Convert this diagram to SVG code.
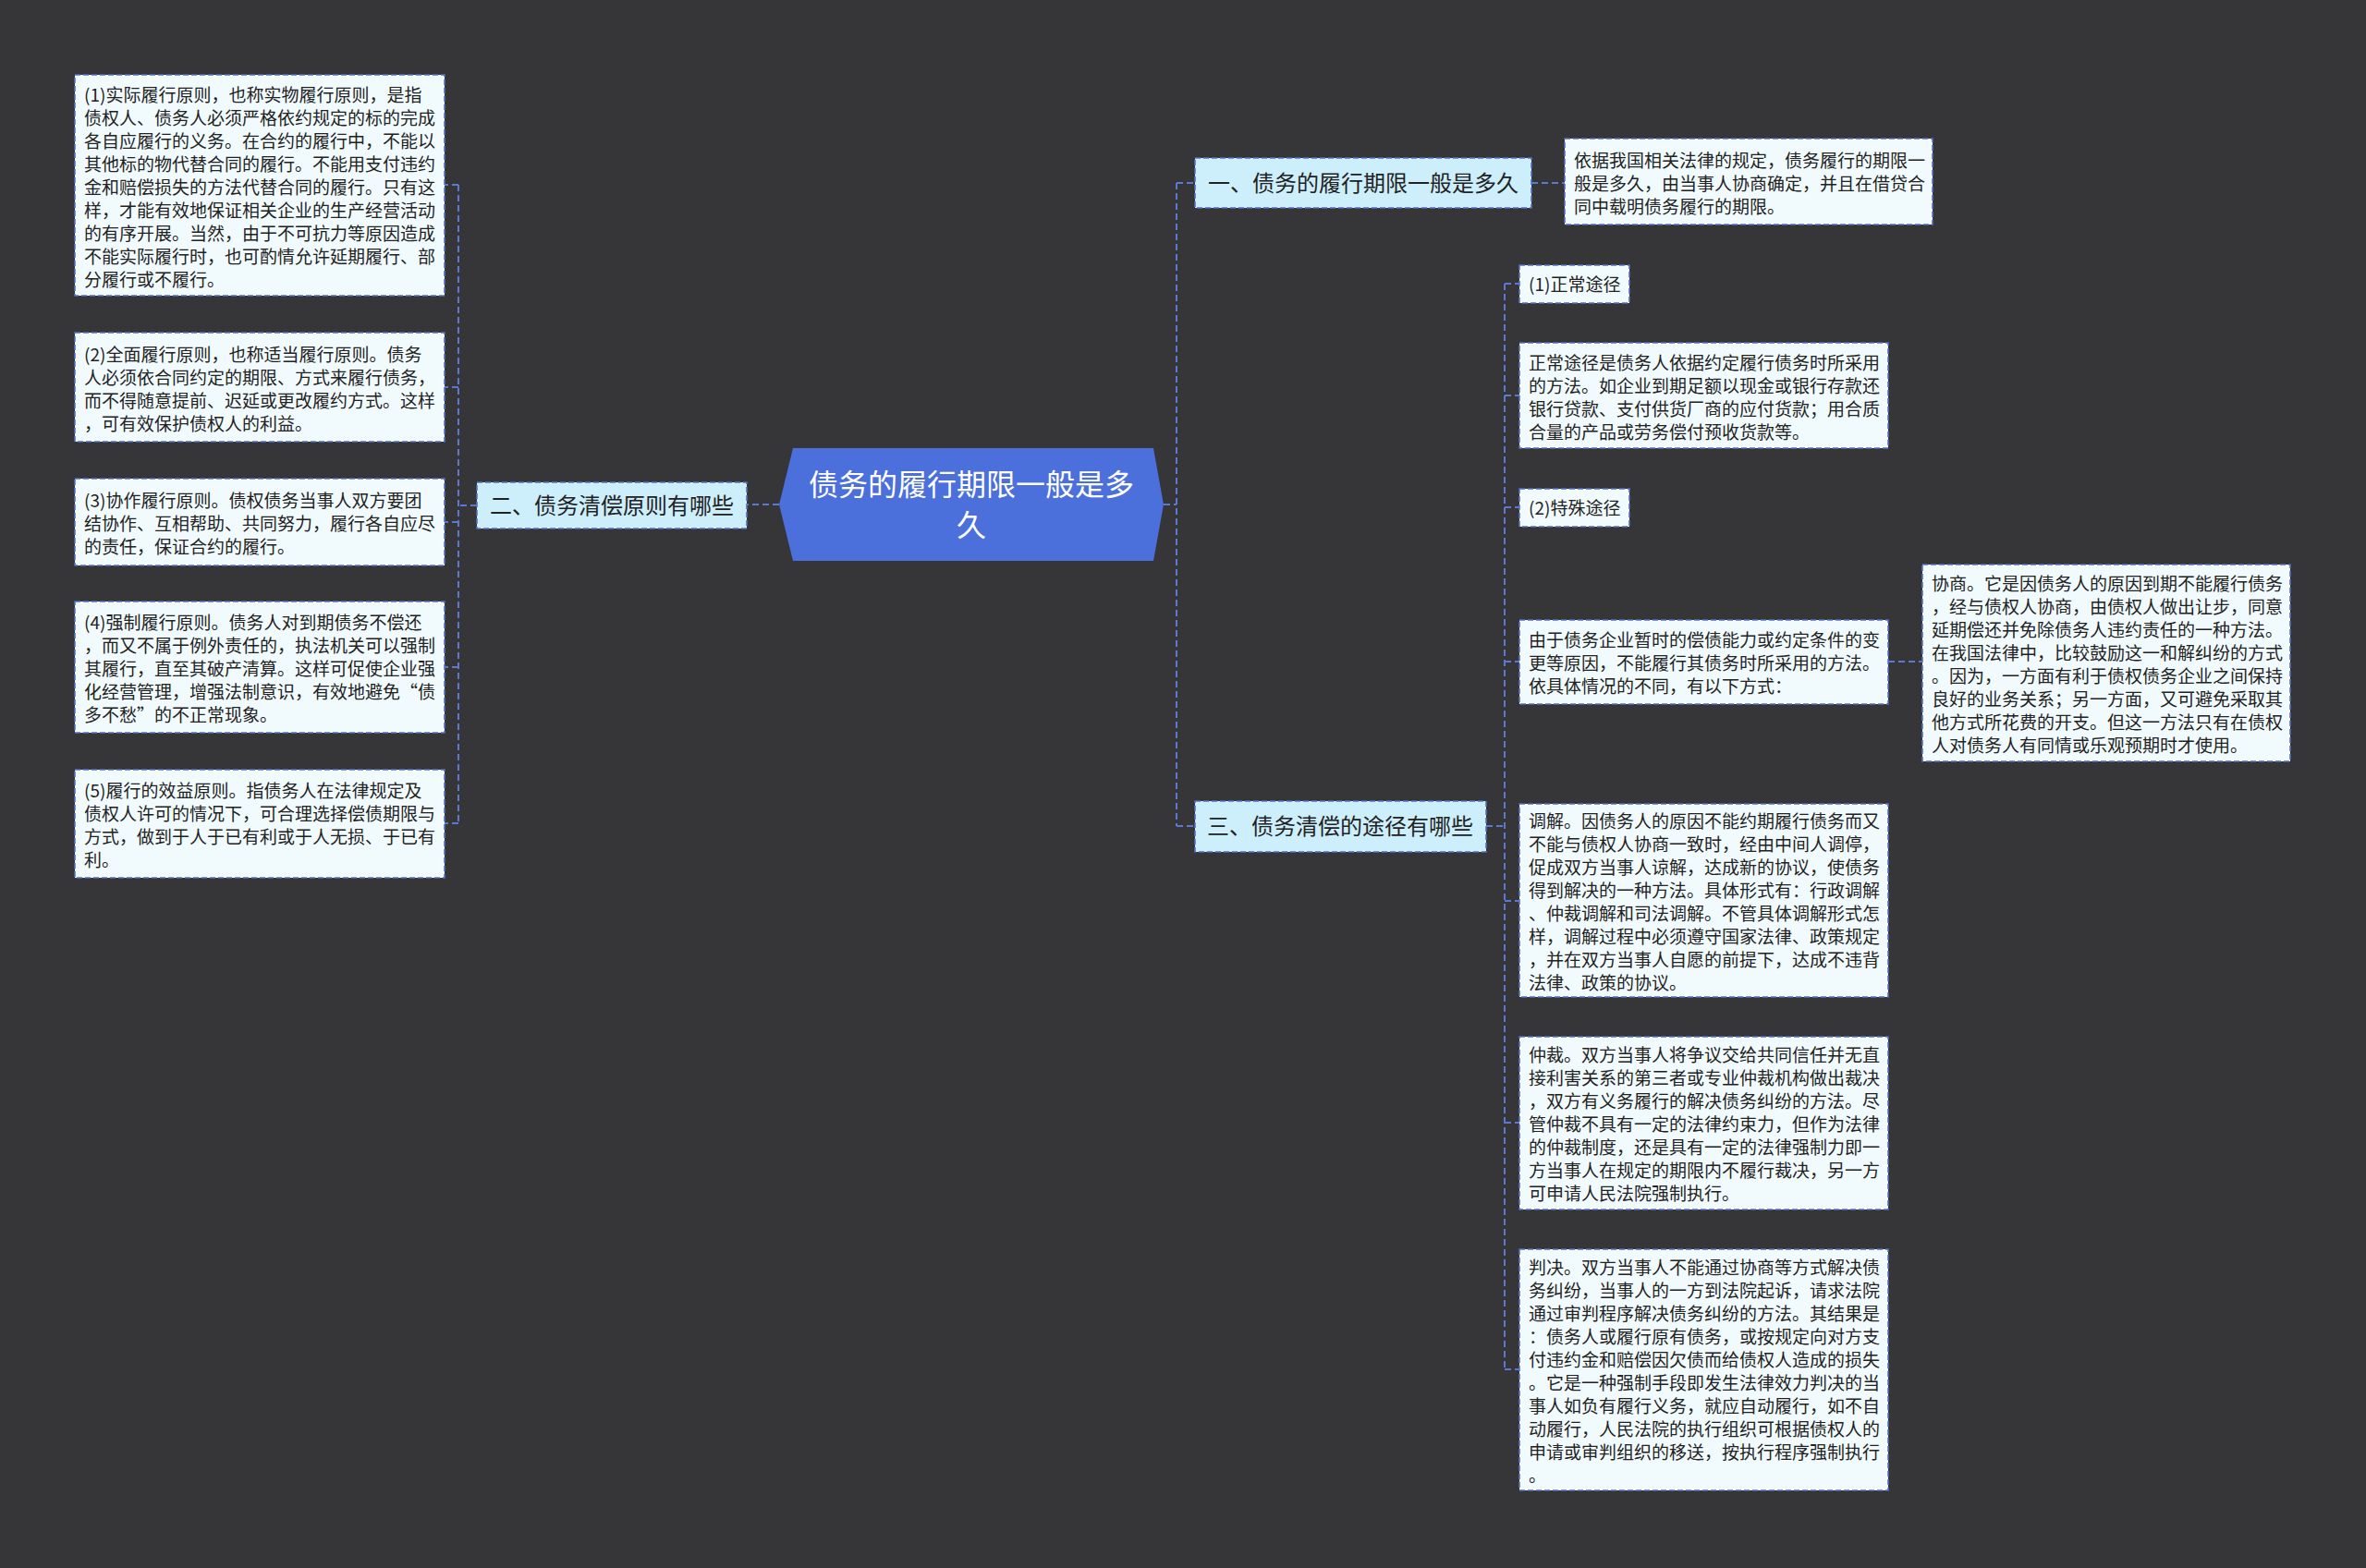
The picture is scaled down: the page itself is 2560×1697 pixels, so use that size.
<svg xmlns="http://www.w3.org/2000/svg" width="2560" height="1697" viewBox="0 0 2560 1697">
<style>
.bg{fill:#363538}
.leaf{fill:#f1fbfe;stroke:#5470c6;stroke-width:1.6;stroke-dasharray:6 3}
.br{fill:#cdeefb;stroke:#5470c6;stroke-width:1.6;stroke-dasharray:6 3}
.t{font-family:"Noto Sans CJK SC","Noto Sans",sans-serif;font-size:19px;fill:#222222;dominant-baseline:central}
.bt{font-family:"Noto Sans CJK SC","Noto Sans",sans-serif;font-size:24px;fill:#222222;dominant-baseline:central;text-anchor:middle}
.ct{font-family:"Noto Sans CJK SC","Noto Sans",sans-serif;font-size:32px;fill:#ffffff;dominant-baseline:central;text-anchor:middle}
.c{fill:none;stroke:#5a78d4;stroke-width:2;stroke-dasharray:7 4}
</style>
<rect class="bg" x="0" y="0" width="2560" height="1697"/>
<g id="connectors">
<path class="c" d="M843,546 H808"/>
<path class="c" d="M516,547 H496 M496,200 V891 M496,200 H481 M496,419 H481 M496,565 H481 M496,722 H481 M496,891 H481"/>
<path class="c" d="M1259,546 H1273 M1273,198 V894 M1273,198 H1293 M1273,894 H1293"/>
<path class="c" d="M1657,198 H1693"/>
<path class="c" d="M1608,894 H1628 M1628,307 V1482 M1628,307 H1644 M1628,428 H1644 M1628,549 H1644 M1628,716 H1644 M1628,975 H1644 M1628,1215 H1644 M1628,1482 H1644"/>
<path class="c" d="M2043,716 H2080"/>
</g>
<g id="center">
<polygon points="858,485 1248,485 1259,546 1248,607 858,607 843,546" fill="#4b6fdb"/>
<text class="ct" x="1051" y="522">债务的履行期限一般是多</text>
<text class="ct" x="1051" y="566">久</text>
</g>
<g id="branch2">
<rect class="br" x="516" y="522" width="292" height="50"/>
<text class="bt" x="662" y="545">二、债务清偿原则有哪些</text>
</g>
<g id="left1">
<rect class="leaf" x="81" y="81" width="400" height="239"/>
<text class="t" x="91"><tspan x="91" y="100.5">(1)实际履行原则，也称实物履行原则，是指</tspan><tspan x="91" y="125.5">债权人、债务人必须严格依约规定的标的完成</tspan><tspan x="91" y="150.5">各自应履行的义务。在合约的履行中，不能以</tspan><tspan x="91" y="175.5">其他标的物代替合同的履行。不能用支付违约</tspan><tspan x="91" y="200.5">金和赔偿损失的方法代替合同的履行。只有这</tspan><tspan x="91" y="225.5">样，才能有效地保证相关企业的生产经营活动</tspan><tspan x="91" y="250.5">的有序开展。当然，由于不可抗力等原因造成</tspan><tspan x="91" y="275.5">不能实际履行时，也可酌情允许延期履行、部</tspan><tspan x="91" y="300.5">分履行或不履行。</tspan></text>
</g>
<g id="left2">
<rect class="leaf" x="81" y="360" width="400" height="118"/>
<text class="t"><tspan x="91" y="381.5">(2)全面履行原则，也称适当履行原则。债务</tspan><tspan x="91" y="406.5">人必须依合同约定的期限、方式来履行债务，</tspan><tspan x="91" y="431.5">而不得随意提前、迟延或更改履约方式。这样</tspan><tspan x="91" y="456.5">，可有效保护债权人的利益。</tspan></text>
</g>
<g id="left3">
<rect class="leaf" x="81" y="518" width="400" height="94"/>
<text class="t"><tspan x="91" y="540">(3)协作履行原则。债权债务当事人双方要团</tspan><tspan x="91" y="565">结协作、互相帮助、共同努力，履行各自应尽</tspan><tspan x="91" y="590">的责任，保证合约的履行。</tspan></text>
</g>
<g id="left4">
<rect class="leaf" x="81" y="651" width="400" height="142"/>
<text class="t"><tspan x="91" y="672">(4)强制履行原则。债务人对到期债务不偿还</tspan><tspan x="91" y="697">，而又不属于例外责任的，执法机关可以强制</tspan><tspan x="91" y="722">其履行，直至其破产清算。这样可促使企业强</tspan><tspan x="91" y="747">化经营管理，增强法制意识，有效地避免“债</tspan><tspan x="91" y="772">多不愁”的不正常现象。</tspan></text>
</g>
<g id="left5">
<rect class="leaf" x="81" y="833" width="400" height="117"/>
<text class="t"><tspan x="91" y="854">(5)履行的效益原则。指债务人在法律规定及</tspan><tspan x="91" y="879">债权人许可的情况下，可合理选择偿债期限与</tspan><tspan x="91" y="904">方式，做到于人于已有利或于人无损、于已有</tspan><tspan x="91" y="929">利。</tspan></text>
</g>
<g id="branch1">
<rect class="br" x="1293" y="171" width="364" height="54"/>
<text class="bt" x="1475" y="196">一、债务的履行期限一般是多久</text>
</g>
<g id="leaf-b1">
<rect class="leaf" x="1693" y="150" width="398" height="93"/>
<text class="t"><tspan x="1703" y="171.5">依据我国相关法律的规定，债务履行的期限一</tspan><tspan x="1703" y="196.5">般是多久，由当事人协商确定，并且在借贷合</tspan><tspan x="1703" y="221.5">同中载明债务履行的期限。</tspan></text>
</g>
<g id="branch3">
<rect class="br" x="1293" y="867" width="315" height="55"/>
<text class="bt" x="1450" y="892">三、债务清偿的途径有哪些</text>
</g>
<g id="normal">
<rect class="leaf" x="1644" y="287" width="119" height="41"/>
<text class="t" x="1654" y="306">(1)正常途径</text>
</g>
<g id="normal-desc">
<rect class="leaf" x="1644" y="371" width="399" height="114"/>
<text class="t"><tspan x="1654" y="390.5">正常途径是债务人依据约定履行债务时所采用</tspan><tspan x="1654" y="415.5">的方法。如企业到期足额以现金或银行存款还</tspan><tspan x="1654" y="440.5">银行贷款、支付供货厂商的应付货款；用合质</tspan><tspan x="1654" y="465.5">合量的产品或劳务偿付预收货款等。</tspan></text>
</g>
<g id="special">
<rect class="leaf" x="1644" y="529" width="119" height="41"/>
<text class="t" x="1654" y="548">(2)特殊途径</text>
</g>
<g id="special-desc">
<rect class="leaf" x="1644" y="671" width="399" height="91"/>
<text class="t"><tspan x="1654" y="691">由于债务企业暂时的偿债能力或约定条件的变</tspan><tspan x="1654" y="716">更等原因，不能履行其债务时所采用的方法。</tspan><tspan x="1654" y="741">依具体情况的不同，有以下方式：</tspan></text>
</g>
<g id="negotiate">
<rect class="leaf" x="2080" y="611" width="398" height="213"/>
<text class="t"><tspan x="2090" y="630">协商。它是因债务人的原因到期不能履行债务</tspan><tspan x="2090" y="655">，经与债权人协商，由债权人做出让步，同意</tspan><tspan x="2090" y="680">延期偿还并免除债务人违约责任的一种方法。</tspan><tspan x="2090" y="705">在我国法律中，比较鼓励这一和解纠纷的方式</tspan><tspan x="2090" y="730">。因为，一方面有利于债权债务企业之间保持</tspan><tspan x="2090" y="755">良好的业务关系；另一方面，又可避免采取其</tspan><tspan x="2090" y="780">他方式所花费的开支。但这一方法只有在债权</tspan><tspan x="2090" y="805">人对债务人有同情或乐观预期时才使用。</tspan></text>
</g>
<g id="mediate">
<rect class="leaf" x="1644" y="870" width="399" height="209"/>
<text class="t"><tspan x="1654" y="887">调解。因债务人的原因不能约期履行债务而又</tspan><tspan x="1654" y="912">不能与债权人协商一致时，经由中间人调停，</tspan><tspan x="1654" y="937">促成双方当事人谅解，达成新的协议，使债务</tspan><tspan x="1654" y="962">得到解决的一种方法。具体形式有：行政调解</tspan><tspan x="1654" y="987">、仲裁调解和司法调解。不管具体调解形式怎</tspan><tspan x="1654" y="1012">样，调解过程中必须遵守国家法律、政策规定</tspan><tspan x="1654" y="1037">，并在双方当事人自愿的前提下，达成不违背</tspan><tspan x="1654" y="1062">法律、政策的协议。</tspan></text>
</g>
<g id="arbitrate">
<rect class="leaf" x="1644" y="1122" width="399" height="187"/>
<text class="t"><tspan x="1654" y="1140">仲裁。双方当事人将争议交给共同信任并无直</tspan><tspan x="1654" y="1165">接利害关系的第三者或专业仲裁机构做出裁决</tspan><tspan x="1654" y="1190">，双方有义务履行的解决债务纠纷的方法。尽</tspan><tspan x="1654" y="1215">管仲裁不具有一定的法律约束力，但作为法律</tspan><tspan x="1654" y="1240">的仲裁制度，还是具有一定的法律强制力即一</tspan><tspan x="1654" y="1265">方当事人在规定的期限内不履行裁决，另一方</tspan><tspan x="1654" y="1290">可申请人民法院强制执行。</tspan></text>
</g>
<g id="judge">
<rect class="leaf" x="1644" y="1352" width="399" height="261"/>
<text class="t"><tspan x="1654" y="1370">判决。双方当事人不能通过协商等方式解决债</tspan><tspan x="1654" y="1395">务纠纷，当事人的一方到法院起诉，请求法院</tspan><tspan x="1654" y="1420">通过审判程序解决债务纠纷的方法。其结果是</tspan><tspan x="1654" y="1445">：债务人或履行原有债务，或按规定向对方支</tspan><tspan x="1654" y="1470">付违约金和赔偿因欠债而给债权人造成的损失</tspan><tspan x="1654" y="1495">。它是一种强制手段即发生法律效力判决的当</tspan><tspan x="1654" y="1520">事人如负有履行义务，就应自动履行，如不自</tspan><tspan x="1654" y="1545">动履行，人民法院的执行组织可根据债权人的</tspan><tspan x="1654" y="1570">申请或审判组织的移送，按执行程序强制执行</tspan><tspan x="1654" y="1595">。</tspan></text>
</g>
</svg>
